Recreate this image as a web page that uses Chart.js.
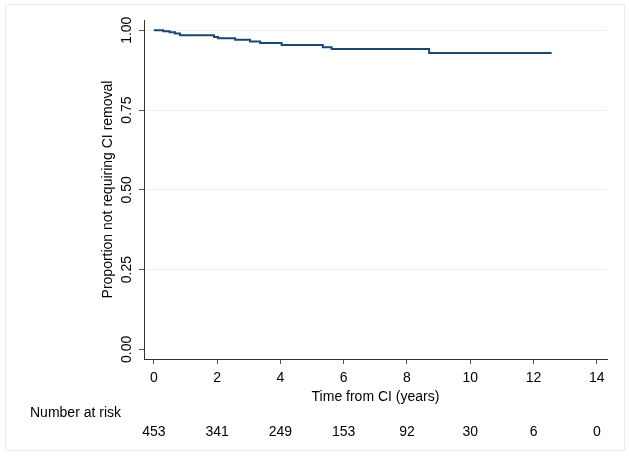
<!DOCTYPE html>
<html>
<head>
<meta charset="utf-8">
<script src="https://cdn.jsdelivr.net/npm/chart.js@4/dist/chart.umd.min.js"></script>
<style>
  html, body { margin: 0; padding: 0; background: #fff; }
  #wrap { width: 629px; height: 461px; position: relative; }
</style>
</head>
<body>
<div id="wrap"><canvas id="kmChart"></canvas></div>
<script>
// ---- Data ----
// Kaplan-Meier step points: time of drop and survival after it
const times = [0, 0.3, 0.5, 0.67, 0.83, 1.9, 2.03, 2.57, 3.04, 3.36, 4.04, 5.34, 5.62, 8.70, 12.57];
const survival = [1.000, 0.997, 0.994, 0.990, 0.984, 0.979, 0.975, 0.970, 0.965, 0.960, 0.954, 0.947, 0.941, 0.929, 0.929];

const xTicks = [0, 2, 4, 6, 8, 10, 12, 14];
const yTicks = [0, 0.25, 0.5, 0.75, 1];
const atRisk = [453, 341, 249, 153, 92, 30, 6, 0];

const FONT = "'Liberation Sans', Arial, sans-serif";

// ---- Extra text: rotated y labels, titles, risk table ----
const stataText = {
  id: "stataText",
  beforeDraw(chart) {
    const c = chart.ctx;
    c.save();
    c.strokeStyle = "#e8eef0";
    c.lineWidth = 1;
    c.strokeRect(5.5, 4.5, 619, 446);
    c.restore();
  },
  afterDraw(chart) {
    const c = chart.ctx;
    const xs = chart.scales.x;
    const ys = chart.scales.y;
    const area = chart.chartArea;
    c.save();
    c.fillStyle = "#000";
    c.font = "14px " + FONT;
    c.textAlign = "center";
    c.textBaseline = "middle";

    // y tick labels, rotated like Stata
    yTicks.forEach(v => {
      c.save();
      c.translate(127, ys.getPixelForValue(v));
      c.rotate(-Math.PI / 2);
      c.fillText(v.toFixed(2), 0, 0);
      c.restore();
    });

    // y title
    c.save();
    c.translate(108, (area.top + area.bottom) / 2);
    c.rotate(-Math.PI / 2);
    c.fillText("Proportion not requiring CI removal", 0, 0);
    c.restore();

    // x title
    c.fillText("Time from CI (years)", (area.left + area.right) / 2, 397);

    // risk table
    c.textAlign = "left";
    c.fillText("Number at risk", 30, 413);
    c.textAlign = "center";
    xTicks.forEach((t, i) => {
      c.fillText(String(atRisk[i]), xs.getPixelForValue(t), 432);
    });
    c.restore();
  }
};

const ctx = document.getElementById("kmChart").getContext("2d");
new Chart(ctx, {
  type: "line",
  data: {
    datasets: [{
      data: times.map((t, i) => ({ x: t, y: survival[i] })),
      borderColor: "#1a476f",
      borderWidth: 2,
      stepped: "before",
      pointRadius: 0,
      fill: false
    }]
  },
  options: {
    responsive: true,
    maintainAspectRatio: false,
    animation: false,
    layout: { padding: { left: 0, top: 20, right: 22, bottom: 0 } },
    plugins: {
      legend: { display: false },
      tooltip: { enabled: false }
    },
    scales: {
      x: {
        type: "linear",
        min: -0.31,
        max: 14.32,
        afterBuildTicks: s => { s.ticks = xTicks.map(v => ({ value: v })); },
        afterFit: s => { s.height = 102; },
        ticks: {
          color: "#000",
          font: { family: FONT, size: 14 },
          padding: 6,
          maxRotation: 0
        },
        grid: {
          drawOnChartArea: false,
          drawTicks: true,
          tickLength: 5,
          tickColor: "#555"
        },
        border: { color: "#333", width: 1 }
      },
      y: {
        type: "linear",
        min: -0.03,
        max: 1.032,
        afterBuildTicks: s => { s.ticks = yTicks.map(v => ({ value: v })); },
        afterFit: s => { s.width = 144; },
        ticks: { display: false },
        grid: {
          color: c => (c.tick && c.tick.value === 0 ? "rgba(0,0,0,0)" : "#eaf2f3"),
          lineWidth: 1,
          drawTicks: true,
          tickLength: 5,
          tickColor: "#555"
        },
        border: { color: "#333", width: 1 }
      }
    }
  },
  plugins: [stataText]
});
</script>
</body>
</html>
